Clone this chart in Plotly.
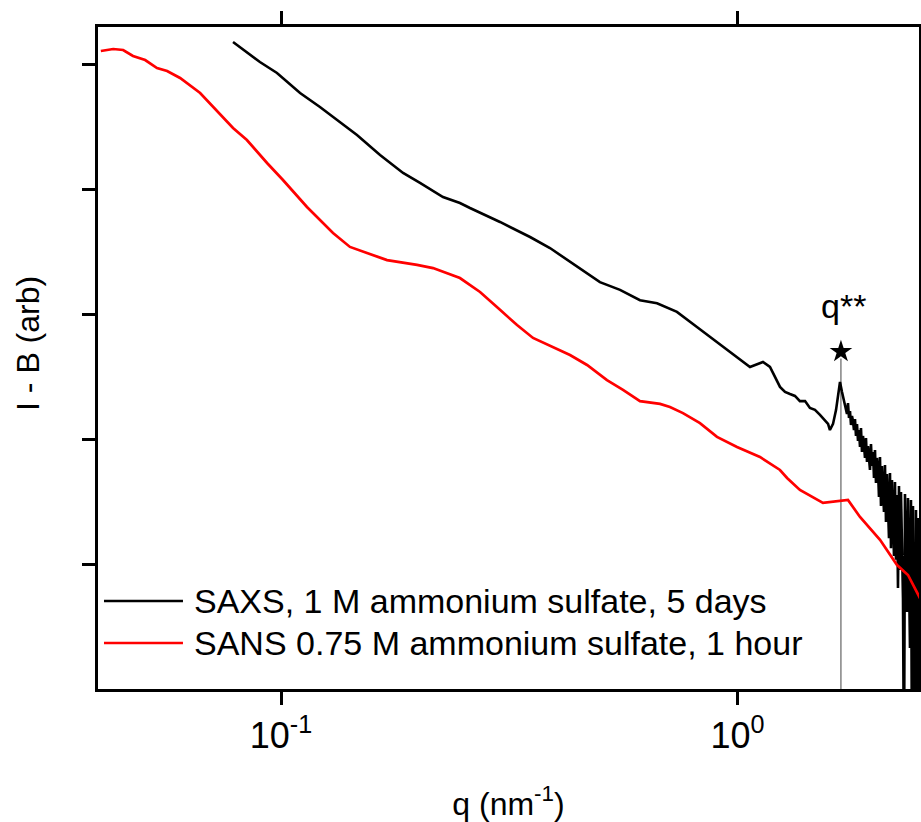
import numpy as np
import plotly.graph_objects as go

# SAXS, 1 M ammonium sulfate, 5 days (q in nm^-1, I - B in arbitrary units)
saxs_q = [0.0785, 0.0899, 0.0980, 0.1101, 0.1217, 0.1300, 0.1467, 0.1648, 0.1851, 0.2016,
          0.2264, 0.2466, 0.2594, 0.3018, 0.3512, 0.3883, 0.4296, 0.4682, 0.4996, 0.5529,
          0.6115, 0.6664, 0.7368, 0.8150, 0.9017, 0.9975, 1.065, 1.137, 1.178, 1.239,
          1.271, 1.303, 1.336, 1.370, 1.406, 1.441, 1.478, 1.516, 1.555, 1.579,
          1.594, 1.619, 1.644, 1.661, 1.677, 1.694, 1.711,
          # noisy high-q tail
          1.7285, 1.7372, 1.7460, 1.7548, 1.7637, 1.7726, 1.7816, 1.7906, 1.7996, 1.8087,
          1.8179, 1.8271, 1.8363, 1.8456, 1.8549, 1.8643, 1.8737, 1.8832, 1.8927, 1.9023,
          1.9119, 1.9216, 1.9313, 1.9410, 1.9508, 1.9607, 1.9706, 1.9806, 1.9906, 2.0007,
          2.0108, 2.0210, 2.0312, 2.0414, 2.0518, 2.0621, 2.0726, 2.0830, 2.0936, 2.1042,
          2.1148, 2.1255, 2.1362, 2.1470, 2.1579, 2.1688, 2.1798, 2.1908, 2.2019, 2.2130,
          2.2242, 2.2354, 2.2467, 2.2581, 2.2695, 2.2810, 2.2925, 2.3041, 2.3158, 2.3275,
          2.3393, 2.3511, 2.3630, 2.3749, 2.3869, 2.3990, 2.4111, 2.4233, 2.4356, 2.4479,
          2.4603, 2.4727, 2.4852, 2.4978, 2.5104]
saxs_I = [15000, 10370, 8470, 5860, 4530, 3770, 2700, 1870, 1343, 1117,
          863, 773, 705, 545, 413, 337, 261, 213, 180, 156,
          129, 122, 104, 78.7, 59.7, 45.3, 37.7, 41.3, 37.7, 26.1,
          23.8, 22.9, 22.1, 20.1, 20.1, 17.7, 17.1, 15.6, 14.2, 13.2,
          11.8, 13.2, 17.1, 22.5, 28.6, 23.8, 20.1,
          17.70, 15.85, 19.41, 14.72, 16.75, 12.94, 15.28, 13.93, 11.80, 14.45,
          10.57, 13.18, 9.64, 11.80, 8.63, 12.25, 7.87, 10.57, 8.95, 7.05,
          10.19, 6.55, 8.79, 7.45, 5.65, 9.12, 6.08, 7.87, 4.88, 8.17,
          4.45, 7.05, 5.65, 3.44, 7.18, 2.91, 6.08, 3.91, 2.61, 6.19,
          2.17, 5.25, 3.13, 1.61, 5.35, 1.34, 4.70, 2.47, 1.16, 4.53,
          1.08, 3.56, 0.643, 4.21, 0.895, 3.77, 1.71, 0.535, 0.02, 3.63,
          1.08, 0.413, 3.37, 0.817, 0.213, 3.25, 0.02, 2.91, 0.356, 0.02,
          2.70, 0.02, 2.33, 0.02, 2.05]

# SANS 0.75 M ammonium sulfate, 1 hour
sans_q = [0.0403, 0.0429, 0.0451, 0.0474, 0.0504, 0.0535, 0.0563, 0.0601, 0.0665, 0.0710,
          0.0785, 0.0842, 0.0932, 0.1010, 0.1140, 0.1300, 0.1416, 0.1543, 0.1707, 0.1986,
          0.2153, 0.2466, 0.2729, 0.3018, 0.3289, 0.3565, 0.3943, 0.4296, 0.4682, 0.5177,
          0.5613, 0.6115, 0.6766, 0.7113, 0.7595, 0.8276, 0.9017, 0.9975, 1.120, 1.196,
          1.239, 1.284, 1.370, 1.539, 1.746, 1.855, 2.052, 2.236, 2.363, 2.523]
sans_I = [12700, 13180, 12940, 11590, 10760, 9290, 8790, 7730, 5860, 4530,
          3076, 2466, 1614, 1180, 718, 445, 344, 308, 270, 247,
          233, 194, 150, 108, 81.7, 64.3, 54.5, 47.0, 39.1, 29.6,
          24.7, 20.1, 19.1, 18.0, 16.1, 13.4, 10.4, 8.63, 7.18, 6.19,
          5.65, 4.88, 3.91, 3.08, 3.25, 2.38, 1.56, 0.98, 0.817, 0.515]

# q** peak marker
q_star = 1.685
q_star_mark_I = 50
q_star_line_I = [44, 0.02]

x_tickvals = [0.1, 1]
x_ticktext = ["10<sup>-1</sup>", "10<sup>0</sup>"]
y_tickvals = [1, 10, 100, 1000, 10000]

series_names = ["SAXS, 1 M ammonium sulfate, 5 days",
                "SANS 0.75 M ammonium sulfate, 1 hour"]
series_colors = ["black", "#ff0000"]
series_widths = [2.6, 2.7]

font_family = "Arial, Liberation Sans, sans-serif"

fig = go.Figure()

fig.add_trace(go.Scatter(x=[q_star, q_star], y=q_star_line_I, mode="lines",
                         line=dict(color="#444444", width=1), showlegend=False,
                         hoverinfo="skip"))
fig.add_trace(go.Scatter(x=saxs_q, y=saxs_I, mode="lines", name=series_names[0],
                         line=dict(color=series_colors[0], width=series_widths[0]),
                         showlegend=False))
fig.add_trace(go.Scatter(x=sans_q, y=sans_I, mode="lines", name=series_names[1],
                         line=dict(color=series_colors[1], width=series_widths[1]),
                         showlegend=False))
fig.add_trace(go.Scatter(x=[q_star], y=[q_star_mark_I], mode="markers",
                         marker=dict(symbol="star", size=17, color="black"),
                         showlegend=False))

fig.add_annotation(x=np.log10(q_star), y=np.log10(q_star_mark_I), text="q**",
                   showarrow=False, yanchor="bottom", yshift=25, xshift=3,
                   font=dict(size=34, color="black", family=font_family))

# legend drawn by hand so the sample lines and row spacing match the original
legend_rows_y = [0.1329, 0.0695]
for name, color, width, ly in zip(series_names, series_colors, series_widths, legend_rows_y):
    fig.add_shape(type="line", xref="paper", yref="paper",
                  x0=0.0073, x1=0.1035, y0=ly, y1=ly,
                  line=dict(color=color, width=width))
    fig.add_annotation(xref="paper", yref="paper", x=0.1140, y=ly, text=name,
                       showarrow=False, xanchor="left", yanchor="middle",
                       font=dict(size=34, color="black", family=font_family))

# y title sits a little above the middle of the axis in the original
fig.add_annotation(xref="paper", yref="paper", x=-0.0853, y=0.5227,
                   text="I - B (arb)", textangle=-90, showarrow=False,
                   xanchor="center", yanchor="middle",
                   font=dict(size=32, color="black", family=font_family))

fig.update_xaxes(type="log", range=[-1.4009, 0.3976], automargin=False,
                 tickmode="array", tickvals=x_tickvals, ticktext=x_ticktext,
                 ticks="outside", ticklen=13, tickwidth=2.5, tickcolor="black",
                 showline=True, linewidth=2.5, linecolor="black", mirror="ticks",
                 showgrid=False, zeroline=False,
                 tickfont=dict(size=36, color="black", family=font_family),
                 title=dict(text="q (nm<sup>-1</sup>)", standoff=38,
                            font=dict(size=32, color="black", family=font_family)))
fig.update_yaxes(type="log", range=[-1.0, 4.296], automargin=False,
                 tickmode="array", tickvals=y_tickvals, showticklabels=False,
                 ticks="outside", ticklen=13, tickwidth=2.5, tickcolor="black",
                 showline=True, linewidth=2.5, linecolor="black", mirror="ticks",
                 showgrid=False, zeroline=False)

fig.update_layout(
    width=921, height=822,
    margin=dict(l=98, r=2, t=27, b=133),
    paper_bgcolor="white", plot_bgcolor="white",
    font=dict(family=font_family, color="black"),
    showlegend=False,
)

# drop the default page margin so the figure fills the window exactly
fig.write_html("out.html", config={"displayModeBar": False},
               post_script="document.body.style.margin='0';"
                           "document.body.style.overflow='hidden';")
